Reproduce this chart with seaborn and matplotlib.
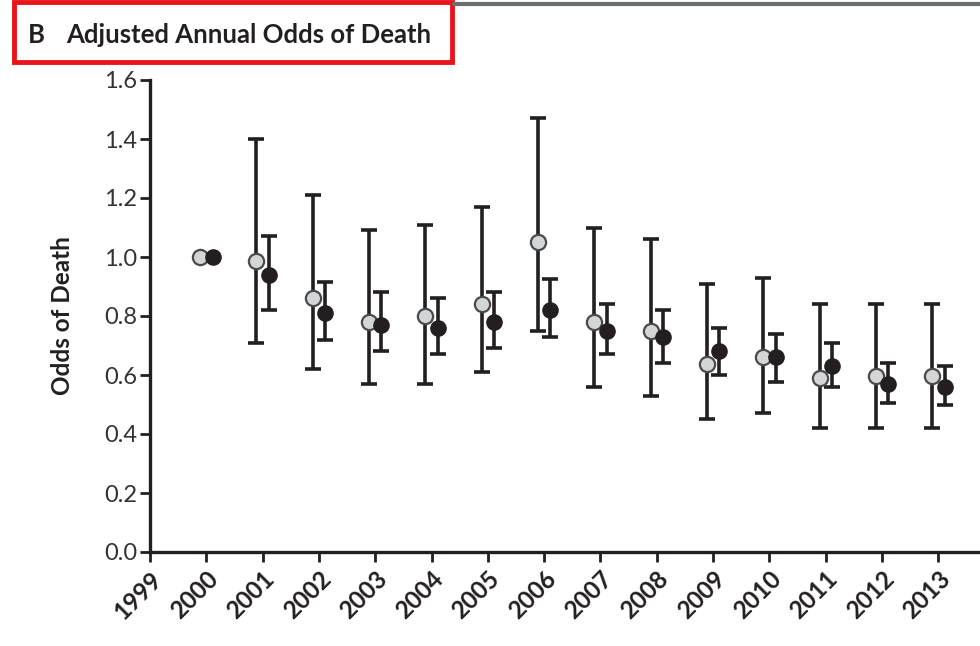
import numpy as np
import pandas as pd
import matplotlib
matplotlib.use("Agg")
import matplotlib.pyplot as plt
import matplotlib.transforms as mtransforms
import seaborn as sns
from matplotlib.patches import Rectangle
from matplotlib.lines import Line2D

years = [2000, 2001, 2002, 2003, 2004, 2005, 2006, 2007, 2008, 2009, 2010, 2011, 2012, 2013]
tick_years = list(range(1999, 2014))

gray_est = [1.00, 0.985, 0.86, 0.78, 0.80, 0.84, 1.05, 0.78, 0.75, 0.636, 0.66, 0.59, 0.595, 0.595]
gray_lo = [np.nan, 0.71, 0.62, 0.57, 0.57, 0.61, 0.75, 0.56, 0.53, 0.45, 0.47, 0.42, 0.42, 0.42]
gray_hi = [np.nan, 1.40, 1.21, 1.09, 1.11, 1.17, 1.47, 1.10, 1.06, 0.91, 0.93, 0.84, 0.84, 0.84]

black_est = [1.00, 0.94, 0.81, 0.77, 0.76, 0.78, 0.82, 0.75, 0.73, 0.68, 0.66, 0.63, 0.57, 0.56]
black_lo = [np.nan, 0.82, 0.72, 0.68, 0.67, 0.69, 0.73, 0.67, 0.64, 0.60, 0.575, 0.56, 0.505, 0.50]
black_hi = [np.nan, 1.07, 0.915, 0.88, 0.86, 0.88, 0.925, 0.84, 0.82, 0.76, 0.74, 0.71, 0.64, 0.63]

yticks = [0.0, 0.2, 0.4, 0.6, 0.8, 1.0, 1.2, 1.4, 1.6]

title = "Adjusted Annual Odds of Death"
panel = "B"
ylabel = "Odds of Death"

sns.set_theme(style="white")
plt.rcParams["font.family"] = ["Lato", "DejaVu Sans"]

fig = plt.figure(figsize=(9.8, 6.46), dpi=100)
ax = fig.add_axes([150 / 980, 1 - 552 / 646, 1 - 150 / 980, (552 - 80) / 646])

off = 0.11
df_g = pd.DataFrame({"x": np.array(years) - off, "y": gray_est, "lo": gray_lo, "hi": gray_hi})
df_b = pd.DataFrame({"x": np.array(years) + off, "y": black_est, "lo": black_lo, "hi": black_hi})

ink = "#231f20"
for df in (df_g, df_b):
    m = df["lo"].notna()
    d = df[m]
    ax.errorbar(d["x"], d["y"], yerr=[d["y"] - d["lo"], d["hi"] - d["y"]],
                fmt="none", ecolor=ink, elinewidth=2.6, capsize=6, capthick=2.6, zorder=2)

sns.scatterplot(data=df_g, x="x", y="y", ax=ax, s=120, color="#d4d5d7",
                edgecolor="#4a4a4a", linewidth=1.6, zorder=3, legend=False)
sns.scatterplot(data=df_b, x="x", y="y", ax=ax, s=120, color=ink,
                edgecolor=ink, linewidth=1.0, zorder=4, legend=False)

ax.set_xlim(1999, 2013.74)
ax.set_ylim(0, 1.6)
ax.set_yticks(yticks)
ax.set_yticklabels([f"{v:.1f}" for v in yticks])
ax.set_xticks(tick_years)
ax.set_xticklabels([str(y) for y in tick_years], rotation=45, ha="right",
                   rotation_mode="anchor")
for lbl in ax.get_yticklabels():
    lbl.set_fontsize(17)
    lbl.set_color("#333333")
shift = mtransforms.ScaledTranslation(9 / 100, -2 / 100, fig.dpi_scale_trans)
for lbl in ax.get_xticklabels():
    lbl.set_fontsize(17.5)
    lbl.set_fontweight("bold")
    lbl.set_color(ink)
    lbl.set_transform(lbl.get_transform() + shift)
ax.set_xlabel("")
ax.set_ylabel(ylabel, fontsize=17.5, fontweight="bold", color=ink, labelpad=22)

for side in ("top", "right"):
    ax.spines[side].set_visible(False)
for side in ("left", "bottom"):
    ax.spines[side].set_color(ink)
    ax.spines[side].set_linewidth(2.4)
ax.tick_params(axis="both", direction="out", length=7, width=2, color=ink,
               left=True, bottom=True, pad=2)
ax.tick_params(axis="x", pad=4)

# title and panel decorations
fig.text(28 / 980, 1 - 35 / 646, panel, fontsize=18.5, fontweight="bold", color=ink, va="center")
fig.text(66 / 980, 1 - 35 / 646, title, fontsize=18.5, fontweight="bold", color=ink, va="center")
fig.add_artist(Rectangle((14 / 980, 1 - 62 / 646), (452 - 14) / 980, 60 / 646,
                         transform=fig.transFigure, fill=False, edgecolor="#e8141b", linewidth=3.5))
fig.add_artist(Line2D([454 / 980, 1.0], [1 - 4 / 646, 1 - 4 / 646],
                      transform=fig.transFigure, color="#6d6e70", linewidth=3))

fig.savefig("out.png", dpi=100)
